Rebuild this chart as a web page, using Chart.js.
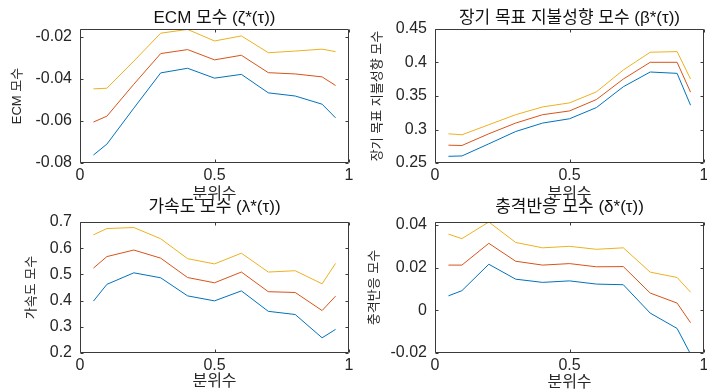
<!DOCTYPE html>
<html>
<head>
<meta charset="utf-8">
<script src="https://cdn.jsdelivr.net/npm/chart.js@4.4.1/dist/chart.umd.min.js"></script>
<style>
  body { margin: 0; background: #fff; }
  #wrap { position: relative; width: 707px; height: 392px; overflow: hidden; }
  canvas { position: absolute; }
</style>
</head>
<body>
<div id="wrap">
  <canvas id="c3" width="353" height="196" style="left:0px;top:196px"></canvas>
  <canvas id="c4" width="354" height="196" style="left:353px;top:196px"></canvas>
  <canvas id="c1" width="353" height="204" style="left:0px;top:0px"></canvas>
  <canvas id="c2" width="354" height="204" style="left:353px;top:0px"></canvas>
</div>
<script>
// quantiles (x axis)
var quantiles = [0.05, 0.1, 0.2, 0.3, 0.4, 0.5, 0.6, 0.7, 0.8, 0.9, 0.95];
var xTicks = [0, 0.5, 1];

// ECM parameter
var ecmLow  = [-0.0762, -0.0710, -0.0539, -0.0371, -0.0349, -0.0396, -0.0378, -0.0466, -0.0481, -0.0520, -0.0585];
var ecmMid  = [-0.0605, -0.0577, -0.0425, -0.0279, -0.0260, -0.0309, -0.0287, -0.0370, -0.0376, -0.0390, -0.0431];
var ecmHigh = [-0.0447, -0.0444, -0.0315, -0.0182, -0.0164, -0.0219, -0.0195, -0.0275, -0.0267, -0.0258, -0.0270];
var ecmTicks = [-0.08, -0.06, -0.04, -0.02];

// long run target WTP parameter
var betaLow  = [0.2600, 0.2605, 0.2786, 0.2970, 0.3096, 0.3160, 0.3327, 0.3638, 0.3858, 0.3838, 0.3362];
var betaMid  = [0.2766, 0.2761, 0.2936, 0.3096, 0.3221, 0.3277, 0.3447, 0.3753, 0.4003, 0.4003, 0.3557];
var betaHigh = [0.2936, 0.2921, 0.3071, 0.3221, 0.3337, 0.3397, 0.3562, 0.3888, 0.4153, 0.4163, 0.3753];
var betaTicks = [0.25, 0.3, 0.35, 0.4, 0.45];

// acceleration parameter
var lamLow  = [0.398, 0.462, 0.506, 0.487, 0.418, 0.399, 0.437, 0.359, 0.347, 0.258, 0.290];
var lamMid  = [0.524, 0.568, 0.593, 0.562, 0.488, 0.468, 0.509, 0.434, 0.431, 0.362, 0.417];
var lamHigh = [0.651, 0.675, 0.679, 0.636, 0.560, 0.540, 0.581, 0.509, 0.514, 0.464, 0.542];
var lamTicks = [0.2, 0.3, 0.4, 0.5, 0.6, 0.7];

// shock response parameter
var delLow  = [0.0068, 0.0092, 0.0216, 0.0146, 0.0131, 0.0138, 0.0123, 0.0120, -0.0013, -0.0085, -0.0205];
var delMid  = [0.0212, 0.0212, 0.0314, 0.0230, 0.0212, 0.0219, 0.0204, 0.0205, 0.0081, 0.0034, -0.0058];
var delHigh = [0.0357, 0.0336, 0.0414, 0.0318, 0.0293, 0.0300, 0.0286, 0.0293, 0.0179, 0.0154, 0.0085];
var delTicks = [-0.02, 0, 0.02, 0.04];

var lineColors = ["#0072BD", "#D95319", "#EDB120"];
var FONT = '"Liberation Sans", "Noto Sans CJK KR", sans-serif';
var TXT = "#262626";

Chart.defaults.font.family = FONT;
Chart.defaults.color = TXT;

function toPoints(vals) {
  return vals.map(function(v, i) { return { x: quantiles[i], y: v }; });
}

function fmt(v) {
  return String(parseFloat(Number(v).toFixed(4)));
}

// MATLAB style box with inward ticks
var boxPlugin = {
  id: "box",
  afterDatasetsDraw: function(chart) {
    var ctx = chart.ctx, a = chart.chartArea;
    var xs = chart.scales.x, ys = chart.scales.y;
    var L = Math.round(a.left) + 0.5, R = Math.round(a.right) - 0.5;
    var T = Math.round(a.top) + 0.5, B = Math.round(a.bottom) - 0.5;
    ctx.save();
    ctx.strokeStyle = "#3a3a3a";
    ctx.lineWidth = 1;
    ctx.beginPath();
    ctx.rect(L, T, R - L, B - T);
    xs.ticks.forEach(function(t) {
      var px = Math.round(xs.getPixelForValue(t.value)) + 0.5;
      ctx.moveTo(px, B); ctx.lineTo(px, B - 3);
      ctx.moveTo(px, T); ctx.lineTo(px, T + 3);
    });
    ys.ticks.forEach(function(t) {
      var py = Math.round(ys.getPixelForValue(t.value)) + 0.5;
      ctx.moveTo(L, py); ctx.lineTo(L + 3, py);
      ctx.moveTo(R, py); ctx.lineTo(R - 3, py);
    });
    ctx.stroke();
    ctx.restore();
  }
};

function makeChart(id, p) {
  var sets = [p.low, p.mid, p.high].map(function(vals, i) {
    return {
      data: toPoints(vals),
      borderColor: lineColors[i],
      borderWidth: 1,
      pointRadius: 0,
      tension: 0,
      fill: false
    };
  });
  return new Chart(document.getElementById(id), {
    type: "line",
    data: { datasets: sets },
    plugins: [boxPlugin],
    options: {
      responsive: false,
      animation: false,
      layout: { padding: { left: 0, right: p.padRight, top: 0, bottom: 0 } },
      plugins: {
        legend: { display: false },
        tooltip: { enabled: false },
        title: {
          display: true,
          fullSize: false,   // centre over the axes, like MATLAB
          text: p.title,
          color: "#111",
          font: { size: 17, weight: "normal" },
          padding: { top: p.titleTop, bottom: p.titleBottom }
        }
      },
      scales: {
        x: {
          type: "linear",
          min: 0, max: 1,
          grid: { display: false, drawTicks: false },
          border: { display: false },
          afterBuildTicks: function(s) {
            s.ticks = xTicks.map(function(v) { return { value: v }; });
          },
          afterFit: function(s) {
            s.height = p.xHeight;
            s.paddingLeft = 0; s.paddingRight = 0;
          },
          ticks: {
            padding: 3,
            maxRotation: 0,
            font: { size: 16 },
            color: TXT,
            callback: function(v) { return fmt(v); }
          },
          title: {
            display: true,
            text: "분위수",
            color: TXT,
            font: { size: 16 },
            padding: { top: 0, bottom: p.xTitleBottom }
          }
        },
        y: {
          type: "linear",
          min: p.ymin, max: p.ymax,
          grid: { display: false, drawTicks: false },
          border: { display: false },
          ticks: {
            padding: 8,
            font: { size: 16 },
            color: TXT,
            callback: function(v) { return fmt(v); }
          },
          afterBuildTicks: function(s) {
            s.ticks = p.yTicks.map(function(v) { return { value: v }; });
          },
          afterFit: function(s) {
            s.width = p.yWidth;
            s.paddingTop = 0; s.paddingBottom = 0;
          },
          title: {
            display: true,
            text: p.ytitle,
            color: TXT,
            font: { size: 13 },
            padding: { top: p.yTitleLeft, bottom: 0 }
          }
        }
      }
    }
  });
}

makeChart("c1", {
  title: "ECM 모수 (ζ*(τ))", ytitle: "ECM 모수",
  low: ecmLow, mid: ecmMid, high: ecmHigh, yTicks: ecmTicks,
  ymin: -0.08, ymax: -0.0162,
  yWidth: 80, padRight: 4, titleTop: 8, titleBottom: 0.6,
  xHeight: 41, xTitleBottom: 0, yTitleLeft: 10
});

makeChart("c2", {
  title: "장기 목표 지불성향 모수 (β*(τ))", ytitle: "장기 목표 지불성향 모수",
  low: betaLow, mid: betaMid, high: betaHigh, yTicks: betaTicks,
  ymin: 0.25, ymax: 0.45,
  yWidth: 82, padRight: 3, titleTop: 8, titleBottom: 0.6,
  xHeight: 41, xTitleBottom: 0, yTitleLeft: 17
});

makeChart("c3", {
  title: "가속도 모수 (λ*(τ))", ytitle: "가속도 모수",
  low: lamLow, mid: lamMid, high: lamHigh, yTicks: lamTicks,
  ymin: 0.2, ymax: 0.7,
  yWidth: 80, padRight: 4, titleTop: 1.5, titleBottom: 4.1,
  xHeight: 39, xTitleBottom: 1, yTitleLeft: 24
});

makeChart("c4", {
  title: "충격반응 모수 (δ*(τ))", ytitle: "충격반응 모수",
  low: delLow, mid: delMid, high: delHigh, yTicks: delTicks,
  ymin: -0.02, ymax: 0.0414,
  yWidth: 82, padRight: 3, titleTop: 1.5, titleBottom: 4.1,
  xHeight: 39, xTitleBottom: 0, yTitleLeft: 14
});
</script>
</body>
</html>
